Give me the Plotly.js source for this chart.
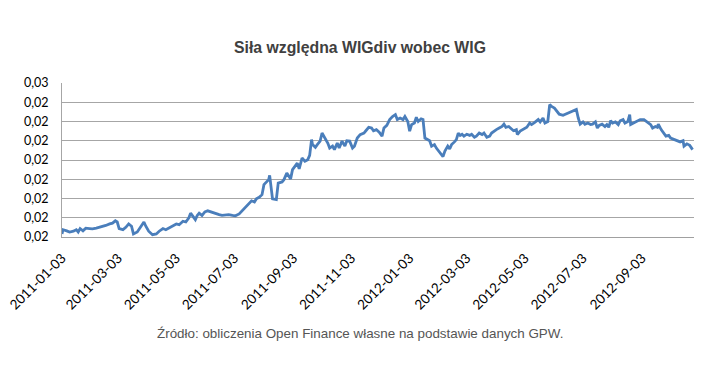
<!DOCTYPE html>
<html>
<head>
<meta charset="utf-8">
<script src="https://cdn.plot.ly/plotly-3.0.1.min.js"></script>
<style>html,body{margin:0;padding:0;background:#fff;}#chart{width:720px;height:386px;}</style>
</head>
<body>
<div id="chart"></div>
<script>
const dates = [
"2011-01-03","2011-01-04","2011-01-08","2011-01-11","2011-01-15","2011-01-18","2011-01-20","2011-01-22","2011-01-25","2011-01-28",
"2011-02-01","2011-02-04","2011-02-08","2011-02-12","2011-02-15","2011-02-18","2011-02-22","2011-02-25","2011-02-28","2011-03-02",
"2011-03-04","2011-03-08","2011-03-11","2011-03-14","2011-03-17","2011-03-19","2011-03-23","2011-03-26","2011-03-30","2011-04-01",
"2011-04-04","2011-04-08","2011-04-12","2011-04-15","2011-04-19","2011-04-22","2011-04-26","2011-04-29","2011-05-03","2011-05-06",
"2011-05-10","2011-05-13","2011-05-16","2011-05-18","2011-05-20","2011-05-23","2011-05-25","2011-05-27","2011-05-30","2011-06-02",
"2011-06-05","2011-06-08","2011-06-12","2011-06-15","2011-06-17","2011-06-20","2011-06-24","2011-06-27","2011-07-01","2011-07-04",
"2011-07-08","2011-07-11","2011-07-15","2011-07-18","2011-07-21","2011-07-24","2011-07-26","2011-07-29","2011-08-01","2011-08-03",
"2011-08-06","2011-08-08","2011-08-09","2011-08-11","2011-08-12","2011-08-16","2011-08-18","2011-08-22","2011-08-24","2011-08-27",
"2011-08-29","2011-08-31","2011-09-02","2011-09-05","2011-09-07","2011-09-09","2011-09-12","2011-09-15","2011-09-18","2011-09-20",
"2011-09-22","2011-09-23","2011-09-26","2011-09-28","2011-10-01","2011-10-03","2011-10-06","2011-10-09","2011-10-11","2011-10-14",
"2011-10-16","2011-10-19","2011-10-21","2011-10-24","2011-10-27","2011-10-29","2011-11-01","2011-11-04","2011-11-06","2011-11-09",
"2011-11-12","2011-11-16","2011-11-18","2011-11-21","2011-11-24","2011-11-26","2011-11-29","2011-12-02","2011-12-05","2011-12-07",
"2011-12-10","2011-12-13","2011-12-16","2011-12-19","2011-12-21","2011-12-24","2011-12-27","2011-12-29","2012-01-01","2012-01-03",
"2012-01-05","2012-01-08","2012-01-10","2012-01-12","2012-01-15","2012-01-17","2012-01-19","2012-01-22","2012-01-24","2012-01-26",
"2012-01-29","2012-01-31","2012-02-03","2012-02-06","2012-02-07","2012-02-09","2012-02-12","2012-02-14","2012-02-16","2012-02-19",
"2012-02-21","2012-02-23","2012-02-25","2012-02-27","2012-02-29","2012-03-03","2012-03-06","2012-03-08","2012-03-11","2012-03-13",
"2012-03-16","2012-03-19","2012-03-21","2012-03-24","2012-03-27","2012-03-29","2012-04-01","2012-04-03","2012-04-06","2012-04-09",
"2012-04-11","2012-04-13","2012-04-16","2012-04-18","2012-04-21","2012-04-24","2012-04-25","2012-04-28","2012-05-01","2012-05-03",
"2012-05-05","2012-05-08","2012-05-10","2012-05-13","2012-05-15","2012-05-17","2012-05-19","2012-05-22","2012-05-24","2012-05-27",
"2012-05-29","2012-05-31","2012-06-03","2012-06-06","2012-06-08","2012-06-12","2012-06-15","2012-06-19","2012-06-22","2012-06-26",
"2012-06-28","2012-06-30","2012-07-03","2012-07-05","2012-07-08","2012-07-11","2012-07-13","2012-07-16","2012-07-18","2012-07-20",
"2012-07-23","2012-07-26","2012-07-28","2012-07-30","2012-08-01","2012-08-03","2012-08-06","2012-08-09","2012-08-11","2012-08-14",
"2012-08-16","2012-08-19","2012-08-21","2012-08-22","2012-08-25","2012-08-29","2012-09-01","2012-09-05","2012-09-08","2012-09-12",
"2012-09-14","2012-09-17","2012-09-19","2012-09-20","2012-09-23","2012-09-26","2012-09-28","2012-10-01","2012-10-03","2012-10-07",
"2012-10-10","2012-10-13","2012-10-16","2012-10-17","2012-10-20","2012-10-23","2012-10-26"
];
const relStrength = [
0.02108,0.02119,0.02116,0.02113,0.02115,0.02119,0.02113,0.02122,0.02116,0.02123,
0.02122,0.02121,0.02123,0.02125,0.02128,0.02130,0.02134,0.02136,0.02142,0.02139,
0.02122,0.02119,0.02125,0.02134,0.02128,0.02108,0.02113,0.02125,0.02139,0.02128,
0.02115,0.02106,0.02108,0.02115,0.02122,0.02119,0.02125,0.02128,0.02134,0.02132,
0.02141,0.02139,0.02149,0.02162,0.02156,0.02145,0.02156,0.02162,0.02156,0.02165,
0.02168,0.02165,0.02162,0.02160,0.02158,0.02156,0.02158,0.02158,0.02156,0.02155,
0.02160,0.02168,0.02180,0.02188,0.02194,0.02191,0.02199,0.02203,0.02210,0.02236,
0.02245,0.02249,0.02260,0.02214,0.02199,0.02197,0.02240,0.02243,0.02249,0.02266,
0.02258,0.02251,0.02275,0.02284,0.02292,0.02277,0.02305,0.02297,0.02301,0.02312,
0.02353,0.02340,0.02333,0.02340,0.02349,0.02370,0.02357,0.02344,0.02331,0.02336,
0.02327,0.02344,0.02331,0.02349,0.02336,0.02350,0.02349,0.02331,0.02336,0.02357,
0.02366,0.02370,0.02376,0.02385,0.02383,0.02376,0.02379,0.02372,0.02362,0.02383,
0.02390,0.02405,0.02413,0.02418,0.02405,0.02409,0.02405,0.02413,0.02400,0.02375,
0.02392,0.02396,0.02411,0.02400,0.02407,0.02405,0.02357,0.02353,0.02350,0.02336,
0.02340,0.02331,0.02321,0.02314,0.02309,0.02323,0.02336,0.02329,0.02340,0.02347,
0.02353,0.02370,0.02364,0.02367,0.02362,0.02367,0.02364,0.02367,0.02359,0.02362,
0.02370,0.02366,0.02370,0.02359,0.02362,0.02370,0.02376,0.02379,0.02383,0.02387,
0.02393,0.02385,0.02387,0.02383,0.02376,0.02379,0.02366,0.02375,0.02379,0.02381,
0.02385,0.02396,0.02392,0.02397,0.02400,0.02405,0.02399,0.02409,0.02396,0.02400,
0.02444,0.02439,0.02435,0.02426,0.02419,0.02416,0.02419,0.02422,0.02426,0.02431,
0.02409,0.02393,0.02399,0.02393,0.02396,0.02392,0.02393,0.02399,0.02383,0.02390,
0.02393,0.02387,0.02392,0.02385,0.02402,0.02396,0.02399,0.02392,0.02402,0.02405,
0.02396,0.02400,0.02418,0.02392,0.02396,0.02402,0.02405,0.02405,0.02400,0.02392,
0.02383,0.02387,0.02385,0.02393,0.02379,0.02370,0.02362,0.02364,0.02357,0.02353,
0.02350,0.02347,0.02350,0.02336,0.02342,0.02338,0.02327
];
const xTickDates = ["2011-01-03","2011-03-03","2011-05-03","2011-07-03","2011-09-03","2011-11-03","2012-01-03","2012-03-03","2012-05-03","2012-07-03","2012-09-03"];
const yTickVals = [0.021,0.0215,0.022,0.0225,0.023,0.0235,0.024,0.0245,0.025];
const yTickText = ["0,02","0,02","0,02","0,02","0,02","0,02","0,02","0,02","0,03"];

const trace = {
  x: dates, y: relStrength, type: 'scatter', mode: 'lines',
  line: {color: '#4a7ebb', width: 2.8},
  hoverinfo: 'skip'
};
const layout = {
  width: 720, height: 386,
  margin: {l: 62, r: 26, t: 83, b: 149},
  paper_bgcolor: '#ffffff', plot_bgcolor: '#ffffff',
  showlegend: false,
  title: {text: '<b>Siła względna WIGdiv wobec WIG</b>', x: 0.5, xanchor: 'center', y: 0.876, yanchor: 'middle',
          font: {family: 'Liberation Sans, Arial, sans-serif', size: 15.8, color: '#404040'}},
  xaxis: {
    type: 'date', range: ['2011-01-03', '2012-10-27 12:00'],
    tickmode: 'array', tickvals: xTickDates, ticktext: xTickDates,
    tickangle: -45, ticks: 'outside', ticklen: 7, tickcolor: 'rgba(0,0,0,0)',
    showgrid: false, zeroline: false,
    showline: true, linecolor: '#a0a0a0', linewidth: 1,
    tickfont: {family: 'Lato, Liberation Sans, sans-serif', size: 13.5, color: '#000'}
  },
  yaxis: {
    range: [0.021, 0.025],
    tickmode: 'array', tickvals: yTickVals, ticktext: yTickText,
    ticks: 'outside', ticklen: 10, tickcolor: 'rgba(0,0,0,0)',
    showgrid: true, gridcolor: '#a6a6a6', gridwidth: 1, zeroline: false,
    showline: true, linecolor: '#a6a6a6', linewidth: 1,
    tickfont: {family: 'Lato, Liberation Sans, sans-serif', size: 12.5, color: '#000'}
  },
  annotations: [{
    text: 'Źródło: obliczenia Open Finance własne na podstawie danych GPW.',
    xref: 'paper', yref: 'paper', x: 0.4715, y: 0, yshift: -96, xanchor: 'center', yanchor: 'middle',
    showarrow: false, font: {family: 'Liberation Sans, Arial, sans-serif', size: 13.4, color: '#555555'}
  }]
};
Plotly.newPlot('chart', [trace], layout, {staticPlot: true, displayModeBar: false});
</script>
</body>
</html>
